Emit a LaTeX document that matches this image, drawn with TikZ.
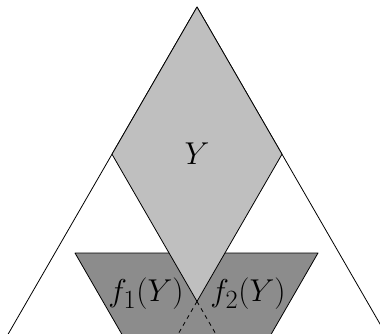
\documentclass[tikz,border=0pt]{standalone}
\begin{document}
\begin{tikzpicture}[x=1pt,y=-1pt,
  edge/.style={line width=0.8pt,line join=round},
  lightfill/.style={fill=black!25,draw=black,line width=0.8pt,line join=round},
  darkfill/.style={fill=black!45,draw=black,line width=0.8pt,line join=round},
  dashline/.style={line width=0.8pt,dash pattern=on 4pt off 4pt},
  lbl/.style={inner sep=0pt,font=\Huge}]
\useasboundingbox (0,0) rectangle (380,333);
\clip (0,0) rectangle (380,333);
% big triangle
\coordinate (A) at (197,7);
\coordinate (TL) at (-7,360.3);
\coordinate (TR) at (401,360.3);
\draw[edge] (TL) -- (A) -- (TR);
% trapezoid f1(Y) u f2(Y)
\coordinate (P1) at (75,253);
\coordinate (P2) at (318,253);
\coordinate (P3) at (268.1,339.5);
\coordinate (P4) at (124.9,339.5);
\draw[darkfill] (P4) -- (P1) -- (P2) -- (P3);
% diamond Y
\coordinate (L) at (112,154.2);
\coordinate (R) at (282,154.2);
\coordinate (B) at (197,301.4);
\draw[lightfill] (A) -- (L) -- (B) -- (R) -- cycle;
% dashed continuations
\coordinate (DL) at (174.9,339.7);
\coordinate (DR) at (219.1,339.7);
\draw[dashline] (B) -- (DL);
\draw[dashline] (B) -- (DR);
% labels
\node[lbl] (y) at (197,154) {\scalebox{1.27}{$Y$}};
\node[lbl] (f1) at (146,294) {\scalebox{1.27}{$f_1(Y)$}};
\node[lbl] (f2) at (248,294) {\scalebox{1.27}{$f_2(Y)$}};
\end{tikzpicture}
\end{document}
